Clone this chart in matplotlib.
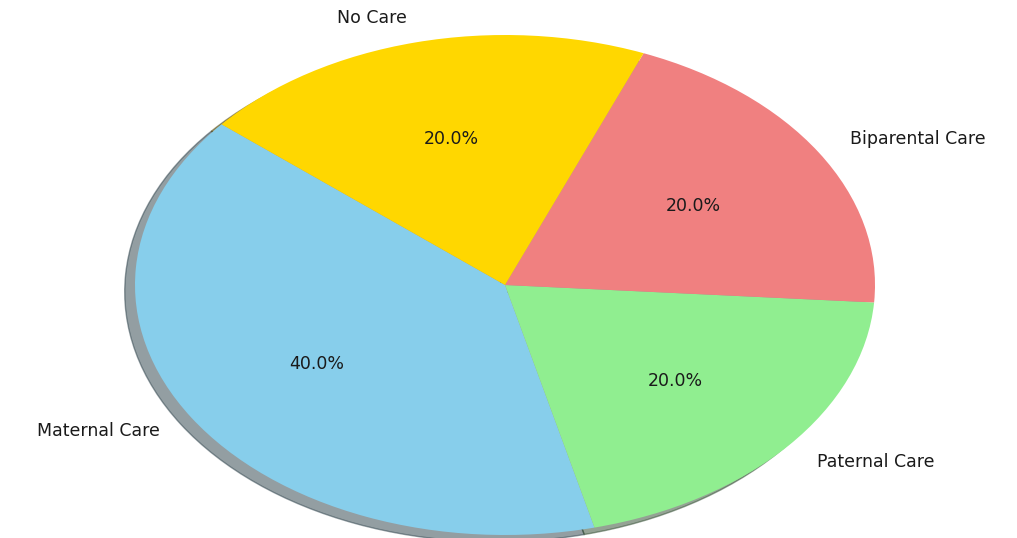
#!/usr/bin/env python3
"""
Parental care strategies - share of species by care type (pie chart)
"""
import matplotlib
matplotlib.use("Agg")
import matplotlib.pyplot as plt

# Data
care_types = ["Maternal Care", "Paternal Care", "Biparental Care", "No Care"]
shares = [40, 20, 20, 20]
slice_colors = ["skyblue", "lightgreen", "lightcoral", "gold"]

fig = plt.figure(figsize=(10.17, 5.38), dpi=100)
ax = fig.add_axes([0, 0, 1, 1])

wedges, texts, autotexts = ax.pie(shares, labels=care_types, colors=slice_colors,
                                  autopct="%1.1f%%", startangle=140, shadow=True,
                                  textprops={"fontsize": 12.5, "color": "#1a1a1a"})

# stretched pie, like the original picture
ax.set_aspect("auto")
ax.set_xlim(-505 / 370, (1017 - 505) / 370)
ax.set_ylim(-253 / 250, 285 / 250)
ax.axis("off")

plt.savefig("out.png", dpi=100)
plt.close()
